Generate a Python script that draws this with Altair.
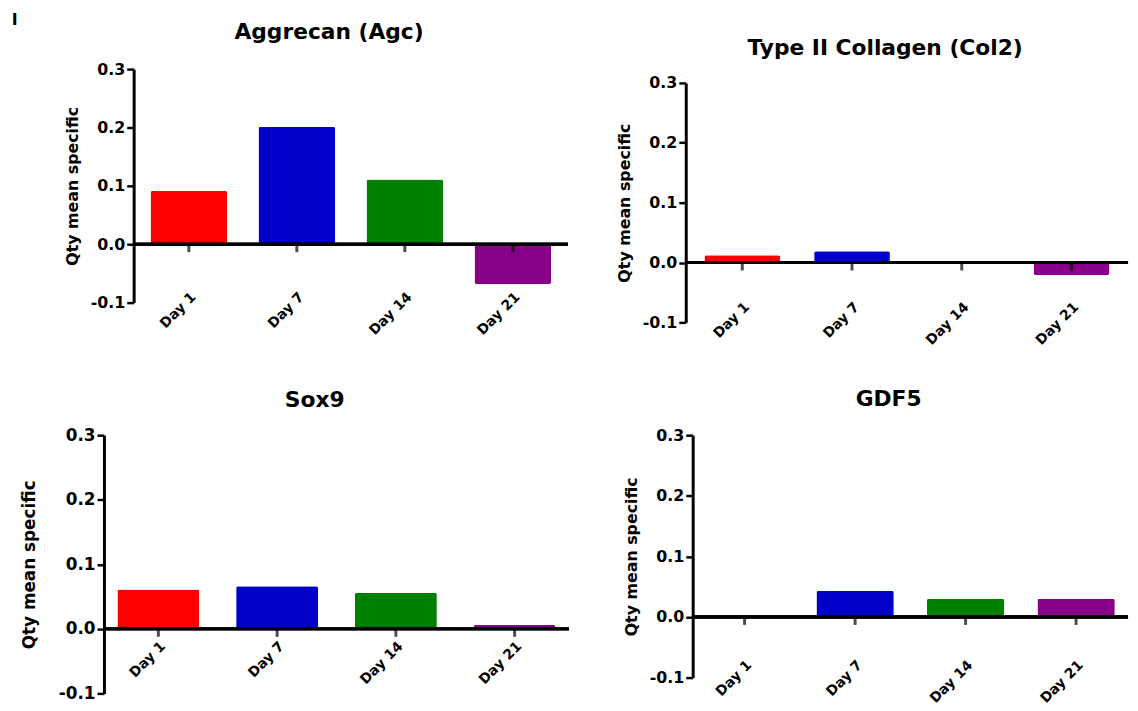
import altair as alt
import pandas as pd

# ---- data ----
days = ["Day 1", "Day 7", "Day 14", "Day 21"]
agc = [0.091, 0.201, 0.111, -0.068]
col2 = [0.012, 0.019, -0.002, -0.021]
sox9 = [0.061, 0.066, 0.056, 0.006]
gdf5 = [0.0, 0.043, 0.030, 0.030]
y_ticks = [-0.1, 0.0, 0.1, 0.2, 0.3]
titles = ["Aggrecan (Agc)", "Type II Collagen (Col2)", "Sox9", "GDF5"]
y_title = "Qty mean specific"
panel_label = "I"
colors_p1 = ["#FF0000", "#0000C8", "#008000", "#880088"]
colors = ["#FF0000", "#0000FF", "#008000", "#880088"]

FONT = "DejaVu Sans"


def panel(title, values, palette, width, height, pin, pout, label_offset,
          title_offset, fs=16, title_pad=10):
    df = pd.DataFrame({"day": days, "value": values})
    xscale = alt.Scale(paddingInner=pin, paddingOuter=pout)
    x = alt.X("day:N", sort=days, title=None, scale=xscale,
              axis=alt.Axis(domain=False, ticks=False, labelAngle=315,
                            labelAlign="right", labelBaseline="top",
                            labelFont=FONT, labelFontWeight="bold",
                            labelFontSize=14, labelColor="black",
                            labelPadding=2, offset=label_offset))
    y = alt.Y("value:Q", title=y_title,
              scale=alt.Scale(domain=[-0.1, 0.3], nice=False, zero=True),
              axis=alt.Axis(values=y_ticks, grid=False,
                            labelExpr="(datum.value < 0 ? '-' : '') + format(abs(datum.value), '.1f')",
                            domainColor="black", domainWidth=3,
                            tickColor="black", tickWidth=2.5, tickSize=7,
                            labelFont=FONT, labelFontWeight="bold",
                            labelFontSize=fs, labelColor="black",
                            labelPadding=2,
                            titleFont=FONT, titleFontWeight="bold",
                            titleFontSize=fs, titleColor="black",
                            titlePadding=title_pad))
    base = alt.Chart(df)
    bars = base.mark_bar(cornerRadius=2).encode(
        x=x, y=y,
        color=alt.Color("day:N", scale=alt.Scale(domain=days, range=palette),
                        legend=None))
    zero = base.mark_rule(color="black", strokeWidth=3).encode(y=alt.datum(0))
    ticks = base.mark_tick(orient="vertical", color="black", size=8,
                           thickness=3, yOffset=4).encode(
        x=alt.X("day:N", sort=days), y=alt.datum(0))
    return alt.layer(bars, zero, ticks).properties(
        width=width, height=height,
        title=alt.TitleParams(title, font=FONT, fontSize=22,
                              fontWeight="bold", color="black",
                              offset=title_offset, dx=-22,
                              baseline="alphabetic"))


def spacer(w, h):
    return alt.Chart(pd.DataFrame({"s": [0]})).mark_point(opacity=0).encode(
        x=alt.X("s:Q", axis=None), y=alt.Y("s:Q", axis=None)
    ).properties(width=w, height=h)


p1 = panel(titles[0], agc, colors_p1, 439, 236, 0.29, 0.156, -15, 0)
p2 = panel(titles[1], col2, colors, 447, 242, 0.31, 0.17, -25, -2)
p3 = panel(titles[2], sox9, colors, 470, 261, 0.31, 0.113, -57, -3,
           fs=17, title_pad=20)
p4 = panel(titles[3], gdf5, colors, 440, 245, 0.30, 0.12, -22, 0)

p2col = alt.vconcat(spacer(10, 14), p2, spacing=-46)
row1 = alt.hconcat(
    spacer(24, 1),
    alt.hconcat(p1, p2col, spacing=47),
    spacing=-64)
row2 = alt.hconcat(p3, p4, spacing=53)

chart = alt.vconcat(row1, row2, spacing=40).properties(
    title=alt.TitleParams(panel_label, font=FONT, fontSize=16,
                          fontWeight="bold", color="black", anchor="start",
                          dx=-9, offset=-6),
    padding={"left": 3, "top": 0, "right": 0, "bottom": 0},
    background="white"
).configure_view(strokeWidth=0, stroke=None)

chart.save("out.html", embed_options={"renderer": "svg", "actions": False})
